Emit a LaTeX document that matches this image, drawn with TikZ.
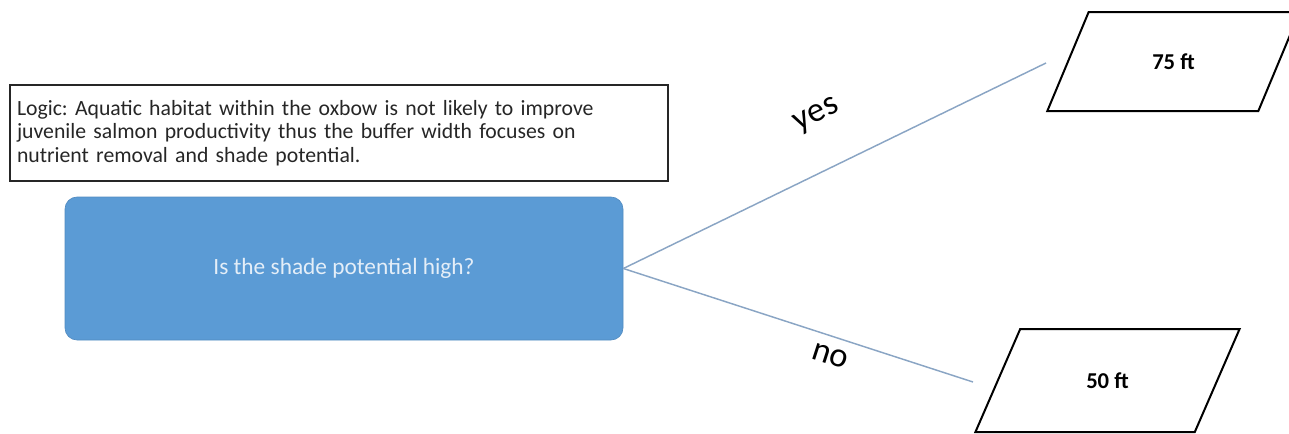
\documentclass[tikz,border=0pt]{standalone}
\usepackage{fontspec}
\setmainfont{Carlito}
\usetikzlibrary{positioning, shapes.geometric}

\definecolor{boxblue}{HTML}{5B9BD5}
\definecolor{linkblue}{HTML}{8AA5C4}
\definecolor{lighttext}{HTML}{E4EEF8}

\frenchspacing

\begin{document}
\begin{tikzpicture}[
    x=0.75pt, y=-0.75pt,
    font=\fontsize{16.3}{17.6}\selectfont,
    logicbox/.style={draw=black!85, line width=1.5pt, text width=483pt,
        minimum height=72pt, inner sep=5pt, align=left, text=black!85},
    question/.style={rectangle, rounded corners=9pt, fill=boxblue,
        draw=boxblue!90!black, line width=0.5pt, minimum width=418.5pt,
        minimum height=107.25pt, text=lighttext,
        font=\fontsize{17.5}{20}\selectfont},
    answer/.style={trapezium, trapezium stretches=true, draw=black,
        line width=1.5pt, font=\fontsize{17}{20}\selectfont\bfseries},
    branch/.style={draw=linkblue, line width=1.1pt},
    branchlabel/.style={font=\fontsize{26}{28}\selectfont}
]

% frame
\useasboundingbox (0,0) rectangle (1289,433);

% logic note
\node[logicbox] (logic) at (339,133)
{Logic: Aquatic habitat within the oxbow is not likely to improve\\
juvenile salmon productivity thus the buffer width focuses on\\
nutrient removal and shade potential.};

% question
\node[question] (question) at (344,268.5) {Is the shade potential high?};

% answers
\node[answer, trapezium left angle=63.2, trapezium right angle=116.8,
    minimum width=189.75pt, minimum height=74.25pt] (wide) at (1173.5,61.5) {75 ft};
\node[answer, trapezium left angle=62, trapezium right angle=118,
    minimum width=198.75pt, minimum height=77.25pt] (narrow) at (1107.5,380.5) {50 ft};

% branches
\coordinate (yesend) at (1046,63);
\coordinate (noend) at (973,382);
\draw[branch] (question.east) -- (yesend);
\draw[branch] (question.east) -- (noend);

\node[branchlabel, rotate=26] (yeslabel) at (817,116) {yes};
\node[branchlabel, rotate=-18] (nolabel) at (830,356) {no};

\end{tikzpicture}
\end{document}
